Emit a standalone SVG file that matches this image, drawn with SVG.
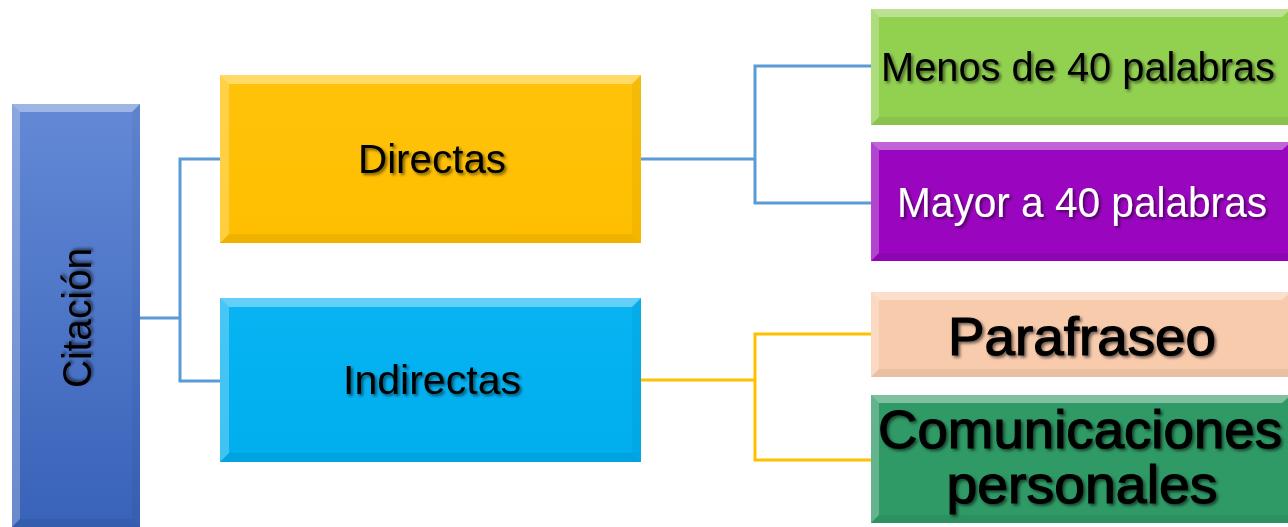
<svg xmlns="http://www.w3.org/2000/svg" width="1288" height="527" viewBox="0 0 1288 527">
<defs>
<linearGradient id="gBlue" x1="0" y1="0" x2="0" y2="1"><stop offset="0" stop-color="#6389D6"/><stop offset="1" stop-color="#3862B8"/></linearGradient>
<linearGradient id="gOrange" x1="0" y1="0" x2="0" y2="1"><stop offset="0" stop-color="#FFC30A"/><stop offset="1" stop-color="#FFBE00"/></linearGradient>
<linearGradient id="gCyan" x1="0" y1="0" x2="0" y2="1"><stop offset="0" stop-color="#08B4F2"/><stop offset="1" stop-color="#00AEEE"/></linearGradient>
<filter id="ts" x="-2%" y="-20%" width="104%" height="150%"><feDropShadow dx="2" dy="2" stdDeviation="1.5" flood-color="#000" flood-opacity="0.55"/></filter>
</defs>
<style>
.bt{fill:#fff;fill-opacity:.38}
.bl{fill:#fff;fill-opacity:.25}
.br{fill:#000;fill-opacity:.04}
.bb{fill:#000;fill-opacity:.06}
.t{font-family:"Liberation Sans",Arial,sans-serif;fill:#000;filter:url(#ts)}
.c{fill:none;stroke-width:3}
</style>
<g id="connectors">
<polyline class="c" stroke="#5B9BD5" points="140,318 180,318"/>
<polyline class="c" stroke="#5B9BD5" points="220,159 180,159 180,381 220,381"/>
<polyline class="c" stroke="#5B9BD5" points="641,159 755,159"/>
<polyline class="c" stroke="#5B9BD5" points="871,66 755,66 755,203 871,203"/>
<polyline class="c" stroke="#FFC000" points="641,380 755,380"/>
<polyline class="c" stroke="#FFC000" points="871,334 755,334 755,460 871,460"/>
</g>
<g id="citacion">
<rect x="12" y="104" width="128" height="430" fill="url(#gBlue)"/>
<polygon class="bt" points="12,104 140,104 132,112 20,112"/>
<polygon class="bl" points="12,104 20,112 20,519 12,527"/>
<polygon class="br" points="140,104 140,527 132,519 132,112"/>
<polygon class="bb" points="12,527 20,519 132,519 140,527"/>
<text class="t" transform="translate(91,318) rotate(-90)" text-anchor="middle" font-size="41" textLength="140" lengthAdjust="spacingAndGlyphs">Citación</text>
</g>
<g id="directas">
<rect x="220" y="75" width="421" height="168" fill="url(#gOrange)"/>
<polygon class="bt" points="220,75 641,75 632,84 229,84"/>
<polygon class="bl" points="220,75 229,84 229,234 220,243"/>
<polygon class="br" points="641,75 641,243 632,234 632,84"/>
<polygon class="bb" points="220,243 229,234 632,234 641,243"/>
<text class="t" x="432" y="173" text-anchor="middle" font-size="40" textLength="148" lengthAdjust="spacingAndGlyphs">Directas</text>
</g>
<g id="indirectas">
<rect x="220" y="298" width="421" height="164" fill="url(#gCyan)"/>
<polygon class="bt" points="220,298 641,298 632,307 229,307"/>
<polygon class="bl" points="220,298 229,307 229,453 220,462"/>
<polygon class="br" points="641,298 641,462 632,453 632,307"/>
<polygon class="bb" points="220,462 229,453 632,453 641,462"/>
<text class="t" x="432" y="394" text-anchor="middle" font-size="40" textLength="178" lengthAdjust="spacingAndGlyphs">Indirectas</text>
</g>
<g id="menos">
<rect x="871" y="9" width="420" height="116" fill="#92D050"/>
<polygon class="bt" points="871,9 1291,9 1282,17 879,17"/>
<polygon class="bl" points="871,9 879,17 879,117 871,125"/>
<polygon class="bb" points="871,125 879,117 1291,117 1291,125"/>
<text class="t" x="1078" y="81" text-anchor="middle" font-size="40" textLength="394" lengthAdjust="spacingAndGlyphs">Menos de 40 palabras</text>
</g>
<g id="mayor">
<rect x="871" y="142" width="420" height="119" fill="#9A06BF"/>
<polygon class="bt" points="871,142 1291,142 1282,150 879,150"/>
<polygon class="bl" points="871,142 879,150 879,253 871,261"/>
<polygon class="bb" points="871,261 879,253 1291,253 1291,261"/>
<text class="t" x="1082" y="217" text-anchor="middle" font-size="42" textLength="370" lengthAdjust="spacingAndGlyphs" style="fill:#fff">Mayor a 40 palabras</text>
</g>
<g id="parafraseo">
<rect x="871" y="292" width="420" height="85" fill="#F8CBAD"/>
<polygon class="bt" points="871,292 1291,292 1282,300 879,300"/>
<polygon class="bl" points="871,292 879,300 879,369 871,377"/>
<polygon class="bb" points="871,377 879,369 1291,369 1291,377"/>
<text class="t" x="1082" y="355" text-anchor="middle" font-size="54" stroke="#000" stroke-width="1.2" textLength="268" lengthAdjust="spacingAndGlyphs">Parafraseo</text>
</g>
<g id="comunicaciones">
<rect x="871" y="395" width="420" height="128" fill="#2F9A66"/>
<polygon class="bt" points="871,395 1291,395 1282,403 879,403"/>
<polygon class="bl" points="871,395 879,403 879,515 871,523"/>
<polygon class="bb" points="871,523 879,515 1291,515 1291,523"/>
<text class="t" x="1080" y="448" text-anchor="middle" font-size="54" stroke="#000" stroke-width="1.2" textLength="404" lengthAdjust="spacingAndGlyphs">Comunicaciones</text>
<text class="t" x="1082" y="503" text-anchor="middle" font-size="54" stroke="#000" stroke-width="1.2" textLength="271" lengthAdjust="spacingAndGlyphs">personales</text>
</g>
</svg>
